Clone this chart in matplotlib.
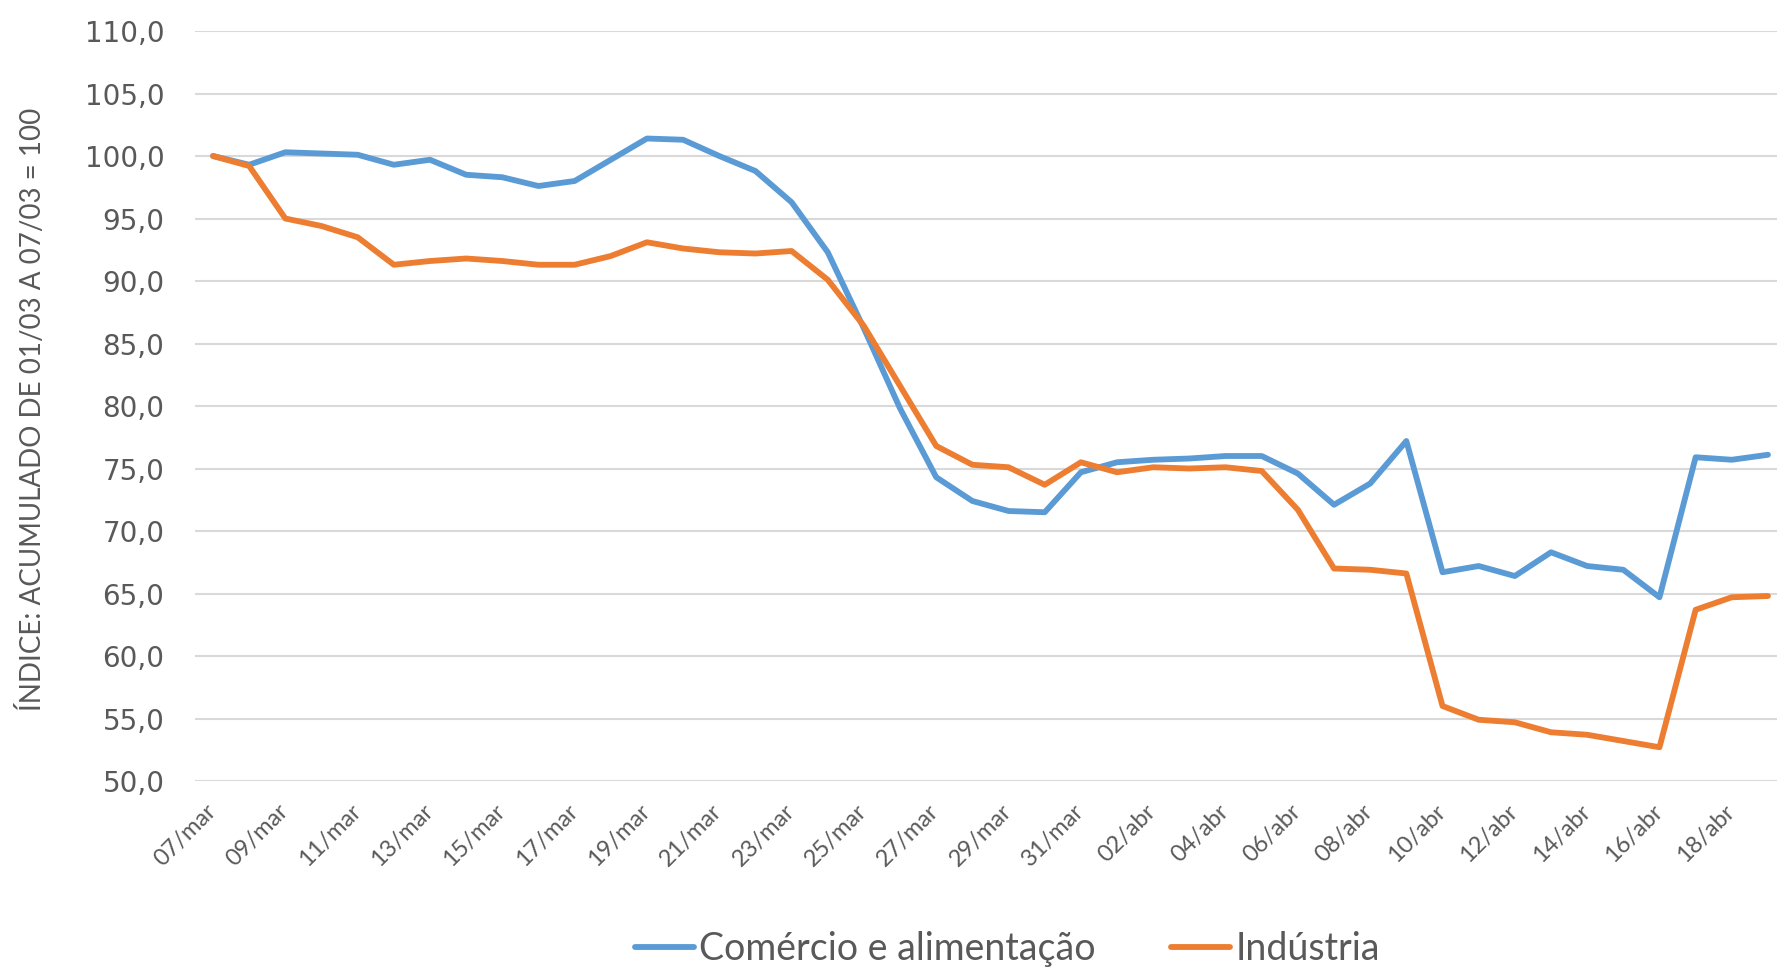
import pandas as pd
import matplotlib.pyplot as plt
import matplotlib.transforms as mtransforms

# days from 07/mar to 19/abr
dias = pd.date_range('2020-03-07', '2020-04-19')
meses = {3: 'mar', 4: 'abr'}
rotulos = ['%02d/%s' % (d.day, meses[d.month]) for d in dias]

comercio = [100.0, 99.3, 100.3, 100.2, 100.1, 99.3, 99.7, 98.5, 98.3, 97.6,
            98.0, 99.7, 101.4, 101.3, 100.0, 98.8, 96.3, 92.3, 86.2, 79.8,
            74.3, 72.4, 71.6, 71.5, 74.7, 75.5, 75.7, 75.8, 76.0, 76.0,
            74.6, 72.1, 73.8, 77.2, 66.7, 67.2, 66.4, 68.3, 67.2, 66.9,
            64.7, 75.9, 75.7, 76.1]
industria = [100.0, 99.2, 95.0, 94.4, 93.5, 91.3, 91.6, 91.8, 91.6, 91.3,
             91.3, 92.0, 93.1, 92.6, 92.3, 92.2, 92.4, 90.1, 86.4, 81.6,
             76.8, 75.3, 75.1, 73.7, 75.5, 74.7, 75.1, 75.0, 75.1, 74.8,
             71.7, 67.0, 66.9, 66.6, 56.0, 54.9, 54.7, 53.9, 53.7, 53.2,
             52.7, 63.7, 64.7, 64.8]

cinza = '#595959'

fig = plt.figure(figsize=(17.77, 9.69), dpi=100)
ax = fig.add_axes([0.1097, 0.194, 0.8903, 0.774])

x = range(len(rotulos))
ax.plot(x, comercio, color='#5B9BD5', lw=4.2, label='Comércio e alimentação',
        solid_joinstyle='round', solid_capstyle='round')
ax.plot(x, industria, color='#ED7D31', lw=4.2, label='Indústria',
        solid_joinstyle='round', solid_capstyle='round')

ax.set_ylim(50, 110)
ax.set_xlim(-0.5, 43.25)
ax.set_yticks(range(50, 111, 5))
ax.set_yticklabels(['%d,0' % v for v in range(50, 111, 5)], fontsize=20,
                   color=cinza, family='DejaVu Sans')
ax.set_xticks(list(x)[::2])
ax.set_xticklabels(rotulos[::2], rotation=45, ha='right', va='top',
                   fontsize=17, color=cinza, family='Lato')
ax.tick_params(axis='y', length=0, pad=22)
ax.tick_params(axis='x', length=0, pad=14)
desloc = mtransforms.ScaledTranslation(0.07, 0, fig.dpi_scale_trans)
for lbl in ax.get_xticklabels():
    lbl.set_transform(lbl.get_transform() + desloc)
ax.grid(axis='y', color='#D9D9D9', lw=1.5)
ax.set_axisbelow(True)
for s in ax.spines.values():
    s.set_visible(False)

fig.text(0.018, 0.578, 'ÍNDICE: ACUMULADO DE 01/03 A 07/03 = 100', rotation=90,
         ha='center', va='center', fontsize=20, color=cinza,
         family=['Liberation Sans Narrow', 'Lato'])

leg = fig.legend(loc='center', bbox_to_anchor=(0.567, 0.021), ncol=2, frameon=False,
                 prop={'family': 'Lato', 'size': 27}, handlelength=1.57,
                 handletextpad=0.15, columnspacing=2.0)
for t in leg.get_texts():
    t.set_color(cinza)

fig.savefig('out.png', dpi=100)
